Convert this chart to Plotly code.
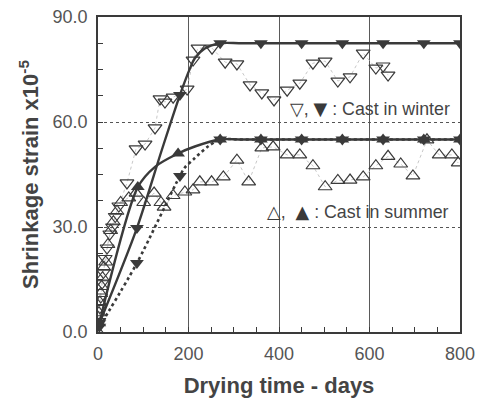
import plotly.graph_objects as go

# ---- measured shrinkage strain (x10^-5) vs drying time (days) ----
winter_open_days = [2, 4, 6, 9, 12, 16, 20, 26, 32, 38, 46, 64, 84, 104, 126, 137,
                    148, 166, 197, 210, 221, 252, 281, 307, 336, 362, 389, 418, 446,
                    475, 502, 530, 557, 586, 614, 630, 641]
winter_open_vals = [3, 7, 10, 14, 17, 21, 24, 28, 30, 33, 36, 42.6, 52.3, 53.7, 58.3, 66.6,
                    65.7, 67.1, 69.4, 77.7, 81.1, 81.1, 77.1, 76.6, 70.6, 68.3, 66.3, 69.1, 71.1,
                    76.8, 77.4, 71.7, 72.9, 79.7, 75.4, 76.0, 73.4]

summer_open_days = [0, 2, 4, 6, 8, 10, 13, 17, 22, 28, 34, 42, 50, 68, 84, 101, 124, 139,
                    146, 166, 192, 210, 225, 251, 277, 307, 333, 362, 387, 418, 446, 475,
                    502, 530, 557, 586, 614, 641, 669, 696, 727, 754, 782, 796]
summer_open_vals = [0, 5.5, 8.5, 11, 13, 15.5, 18.5, 20, 25, 29, 31.5, 34.5, 37, 38.3, 39.7,
                    37, 39.7, 37, 35.7, 39, 40, 40.6, 42.9, 42.9, 44.3, 49.1, 42.9, 52.6,
                    52.9, 50.6, 50.6, 47.5, 41.5, 43.3, 43.4, 44.3, 47.5, 50.2, 48.0, 44.6,
                    54.9, 50.6, 50.6, 48.3]

# ---- filled markers (model points) ----
winter_fill_days = [3, 86, 181, 270, 360, 450, 540, 630, 720, 800]
winter_fill_vals = [2.5, 29.7, 67.7, 82.5, 82.5, 82.5, 82.5, 82.5, 82.5, 82.5]

summer_fill_days = [3, 88, 177, 270, 360, 450, 540, 630, 720, 800]
summer_fill_vals = [2.5, 41.4, 51.0, 55.0, 55.0, 55.0, 55.0, 55.0, 55.0, 55.0]

dotted_fill_days = [3, 86, 181, 270, 360, 450, 540, 630, 720, 800]
dotted_fill_vals = [1.5, 19.7, 44.6, 55.0, 55.0, 55.0, 55.0, 55.0, 55.0, 55.0]

# ---- fitted curves ----
winter_curve_days = [3, 86, 141, 181, 202, 214, 236, 270, 320, 800]
winter_curve_vals = [2.5, 29.7, 52.0, 67.7, 74.9, 78.2, 81.0, 82.5, 82.5, 82.5]

summer_curve_days = [3, 88, 126, 177, 214, 270, 320, 800]
summer_curve_vals = [2.5, 41.4, 47.2, 51.0, 53.0, 55.0, 55.0, 55.0]

dotted_curve_days = [3, 86, 181, 192, 214, 243, 270, 320, 800]
dotted_curve_vals = [1.5, 19.7, 44.6, 47.0, 49.7, 53.0, 55.0, 55.0, 55.0]

x_ticks = [0, 200, 400, 600, 800]
y_ticks = [0, 30, 60, 90]
y_tick_text = ["0.0", "30.0", "60.0", "90.0"]

INK = "#3a3a3a"
FONT = "Liberation Sans, Arial, sans-serif"
SYM = "font-family:DejaVu Sans;color:#3a3a3a"
SP = "&nbsp;"

fig = go.Figure()

# thin connectors between measured points
fig.add_trace(go.Scatter(x=winter_open_days, y=winter_open_vals, mode="lines",
                         line=dict(color="#c8c8c8", width=1, dash="dot"),
                         hoverinfo="skip"))
fig.add_trace(go.Scatter(x=summer_open_days, y=summer_open_vals, mode="lines",
                         line=dict(color="#c8c8c8", width=1, dash="dot"),
                         hoverinfo="skip"))

# fitted curves
fig.add_trace(go.Scatter(x=winter_curve_days, y=winter_curve_vals, mode="lines",
                         line=dict(color=INK, width=2.4, shape="spline", smoothing=0.8)))
fig.add_trace(go.Scatter(x=summer_curve_days, y=summer_curve_vals, mode="lines",
                         line=dict(color=INK, width=2.4, shape="spline", smoothing=0.8)))
fig.add_trace(go.Scatter(x=dotted_curve_days, y=dotted_curve_vals, mode="lines",
                         line=dict(color=INK, width=2.6, dash="dot", shape="spline",
                                   smoothing=0.8)))

# measured points (open)
fig.add_trace(go.Scatter(x=winter_open_days, y=winter_open_vals, mode="markers",
                         marker=dict(symbol="triangle-down-open", size=12,
                                     color=INK, line=dict(width=1.2, color=INK))))
fig.add_trace(go.Scatter(x=summer_open_days, y=summer_open_vals, mode="markers",
                         marker=dict(symbol="triangle-up-open", size=12,
                                     color=INK, line=dict(width=1.2, color=INK))))

# model points (filled)
fig.add_trace(go.Scatter(x=winter_fill_days, y=winter_fill_vals, mode="markers",
                         marker=dict(symbol="triangle-down", size=12, color=INK)))
fig.add_trace(go.Scatter(x=dotted_fill_days, y=dotted_fill_vals, mode="markers",
                         marker=dict(symbol="triangle-down", size=12, color=INK)))
fig.add_trace(go.Scatter(x=summer_fill_days, y=summer_fill_vals, mode="markers",
                         marker=dict(symbol="triangle-up", size=12, color=INK)))

axis_common = dict(
    showline=True, linecolor=INK, linewidth=1.5, mirror=True,
    ticks="inside", ticklen=5, tickcolor=INK, tickwidth=1,
    showgrid=True, gridwidth=1,
    zeroline=False, automargin=False,
    tickfont=dict(family=FONT, size=18, color="#555555"),
    ticklabelstandoff=5,
)

fig.update_xaxes(
    range=[0, 800], tickvals=x_ticks,
    gridcolor="#5a5a5a", griddash="solid",
    minor=dict(dtick=50, ticks="inside", ticklen=5, tickcolor=INK, showgrid=False),
    title=dict(text="Drying time - days", standoff=14,
               font=dict(family=FONT, size=22, color="#444444", weight="bold")),
    **axis_common,
)
fig.update_yaxes(
    range=[0, 90], tickvals=y_ticks, ticktext=y_tick_text,
    gridcolor="#555555", griddash="dot",
    minor=dict(dtick=7.5, ticks="inside", ticklen=5, tickcolor=INK, showgrid=False),
    title=dict(text="Shrinkage strain x10<sup>-5</sup>", standoff=8,
               font=dict(family=FONT, size=22, color="#444444", weight="bold")),
    **axis_common,
)

fig.add_annotation(xref="paper", yref="paper", x=0.525, y=0.711,
                   xanchor="left", yanchor="middle", showarrow=False,
                   text=(f"<span style='{SYM}'>▽</span>,{SP}<span style='{SYM}'>▼</span>"
                         f"{SP}:{SP}Cast in winter"),
                   font=dict(family=FONT, size=17.8, color="#444444"))
fig.add_annotation(xref="paper", yref="paper", x=0.46, y=0.384,
                   xanchor="left", yanchor="middle", showarrow=False,
                   text=(f"<span style='{SYM}'>△</span>,{SP}{SP}<span style='{SYM}'>▲</span>"
                         f"{SP}:{SP}Cast in summer"),
                   font=dict(family=FONT, size=17.8, color="#444444"))

fig.update_layout(
    width=479, height=403,
    margin=dict(l=98, r=19, t=17, b=71),
    paper_bgcolor="white", plot_bgcolor="white",
    showlegend=False,
)

fig.write_html("out.html")
